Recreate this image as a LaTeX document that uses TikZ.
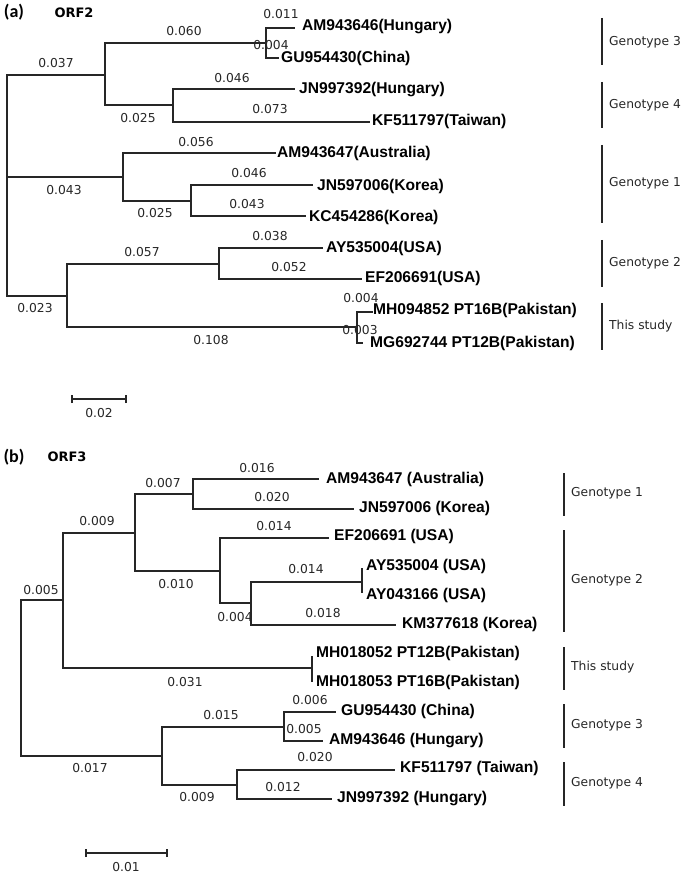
\documentclass[tikz,border=0pt]{standalone}
\usepackage{fontspec}
\setmainfont{DejaVu Sans}
\newfontfamily\leaffont{Liberation Sans}
\newfontfamily\panelfont{Carlito}
\begin{document}
\begin{tikzpicture}[x=1pt,y=-1pt,
  br/.style={line width=1.2pt, draw=black!85},
  leaf/.style={anchor=west, inner sep=0pt, font=\leaffont\bfseries\fontsize{15.6}{18}\selectfont},
  bl/.style={inner sep=0pt, font=\fontsize{12.3}{14}\selectfont, text=black!85},
  geno/.style={anchor=west, inner sep=0pt, font=\fontsize{12.3}{14}\selectfont, text=black!85},
  bar/.style={line width=1.2pt, draw=black!85},
  paneltitle/.style={inner sep=0pt, font=\panelfont\bfseries\fontsize{18}{20}\selectfont},
  orf/.style={inner sep=0pt, font=\bfseries\fontsize{13}{15}\selectfont},
]
\useasboundingbox (0,0) rectangle (685,874);

% ================= Panel (a) =================
\node[paneltitle] (pa) at (14,12) {(a)};
\node[orf] (orfa) at (74,13) {ORF2};

\coordinate (ra) at (7,185);
\coordinate (a1) at (105,75);
\coordinate (a2) at (266,43);
\coordinate (aL1) at (295,28);
\coordinate (aL2) at (279,58);
\coordinate (a3) at (173,105);
\coordinate (aL3) at (295,89);
\coordinate (aL4) at (370,122);
\coordinate (a4) at (123,177);
\coordinate (aL5) at (276,153);
\coordinate (a5) at (191,201);
\coordinate (aL6) at (313,185);
\coordinate (aL7) at (306,216);
\coordinate (a6) at (67,296);
\coordinate (a7) at (219,264);
\coordinate (aL8) at (323,248);
\coordinate (aL9) at (362,279);
\coordinate (a8) at (357,327);
\coordinate (aL10) at (373,312);
\coordinate (aL11) at (363,343);

\draw[br] (ra) |- (a1);
\draw[br] (ra) |- (a4);
\draw[br] (ra) |- (a6);
\draw[line width=2.4pt, draw=black!85] (7,125) -- (7,177);
\draw[br] (a1) |- (a2);
\draw[br] (a1) |- (a3);
\draw[br] (a2) |- (aL1);
\draw[br] (a2) |- (aL2);
\draw[br] (a3) |- (aL3);
\draw[br] (a3) |- (aL4);
\draw[br] (a4) |- (aL5);
\draw[br] (a4) |- (a5);
\draw[br] (a5) |- (aL6);
\draw[br] (a5) |- (aL7);
\draw[br] (a6) |- (a7);
\draw[br] (a6) |- (a8);
\draw[br] (a7) |- (aL8);
\draw[br] (a7) |- (aL9);
\draw[br] (a8) |- (aL10);
\draw[br] (a8) |- (aL11);

\node[leaf] (taL1) at (302,26.5) {AM943646(Hungary)};
\node[leaf] (taL2) at (281,58.5) {GU954430(China)};
\node[leaf] (taL3) at (299,89.5) {JN997392(Hungary)};
\node[leaf] (taL4) at (372,121.5) {KF511797(Taiwan)};
\node[leaf] (taL5) at (277,153.5) {AM943647(Australia)};
\node[leaf] (taL6) at (317,186.5) {JN597006(Korea)};
\node[leaf] (taL7) at (309,217.5) {KC454286(Korea)};
\node[leaf] (taL8) at (326,248.5) {AY535004(USA)};
\node[leaf] (taL9) at (365,278.5) {EF206691(USA)};
\node[leaf] (taL10) at (373,310.5) {MH094852 PT16B(Pakistan)};
\node[leaf] (taL11) at (370,343.5) {MG692744 PT12B(Pakistan)};

\node[bl] (ba1) at (281,14) {0.011};
\node[bl] (ba2) at (271,45) {0.004};
\node[bl] (ba3) at (184,31) {0.060};
\node[bl] (ba4) at (56,63) {0.037};
\node[bl] (ba5) at (232,78) {0.046};
\node[bl] (ba6) at (270,109) {0.073};
\node[bl] (ba7) at (138,118) {0.025};
\node[bl] (ba8) at (196,142) {0.056};
\node[bl] (ba9) at (64,190) {0.043};
\node[bl] (ba10) at (249,173) {0.046};
\node[bl] (ba11) at (247,204) {0.043};
\node[bl] (ba12) at (155,213) {0.025};
\node[bl] (ba13) at (270,236) {0.038};
\node[bl] (ba14) at (289,267) {0.052};
\node[bl] (ba15) at (142,252) {0.057};
\node[bl] (ba16) at (35,308) {0.023};
\node[bl] (ba17) at (211,340) {0.108};
\node[bl] (ba18) at (361,298) {0.004};
\node[bl] (ba19) at (360,330) {0.003};

\draw[bar] (602,18) -- (602,65);
\node[geno] (ga3) at (609,42) {Genotype 3};
\draw[bar] (602,82) -- (602,128);
\node[geno] (ga4) at (609,105) {Genotype 4};
\draw[bar] (602,145) -- (602,223);
\node[geno] (ga1) at (609,183) {Genotype 1};
\draw[bar] (602,240) -- (602,287);
\node[geno] (ga2) at (609,263) {Genotype 2};
\draw[bar] (602,303) -- (602,350);
\node[geno] (gas) at (609,326) {This study};

\coordinate (sa1) at (72,399);
\coordinate (sa2) at (126,399);
\draw[br] (sa1) -- (sa2);
\draw[br] ([yshift=-4pt]sa1) -- ([yshift=4pt]sa1);
\draw[br] ([yshift=-4pt]sa2) -- ([yshift=4pt]sa2);
\node[bl] (sla) at (99,413) {0.02};

% ================= Panel (b) =================
\node[paneltitle] (pb) at (14,457) {(b)};
\node[orf] (orfb) at (67,457) {ORF3};

\coordinate (rb) at (21,680);
\coordinate (b1) at (63,600);
\coordinate (b2) at (135,533);
\coordinate (b3) at (193,494);
\coordinate (bL1) at (319,479);
\coordinate (bL2) at (354,509);
\coordinate (b4) at (220,571);
\coordinate (bL3) at (329,538);
\coordinate (b5) at (251,603);
\coordinate (b6) at (362,582);
\coordinate (bL4) at (362,568);
\coordinate (bL5) at (362,593);
\coordinate (bL6) at (396,625);
\coordinate (b7) at (312,668);
\coordinate (bL7) at (312,656);
\coordinate (bL8) at (312,682);
\coordinate (b8) at (162,756);
\coordinate (b9) at (284,727);
\coordinate (bL9) at (336,712);
\coordinate (bL10) at (323,741);
\coordinate (b10) at (237,785);
\coordinate (bL11) at (395,770);
\coordinate (bL12) at (332,799);

\draw[br] (rb) |- (b1);
\draw[br] (rb) |- (b8);
\draw[br] (b1) |- (b2);
\draw[br] (b1) |- (b7);
\draw[br] (b2) |- (b3);
\draw[br] (b2) |- (b4);
\draw[br] (b3) |- (bL1);
\draw[br] (b3) |- (bL2);
\draw[br] (b4) |- (bL3);
\draw[br] (b4) |- (b5);
\draw[br] (b5) |- (b6);
\draw[br] (b5) |- (bL6);
\draw[br] (b6) -- (bL4);
\draw[br] (b6) -- (bL5);
\draw[br] (b7) -- (bL7);
\draw[br] (b7) -- (bL8);
\draw[br] (b8) |- (b9);
\draw[br] (b8) |- (b10);
\draw[br] (b9) |- (bL9);
\draw[br] (b9) |- (bL10);
\draw[br] (b10) |- (bL11);
\draw[br] (b10) |- (bL12);

\node[leaf] (tbL1) at (326,479.5) {AM943647 (Australia)};
\node[leaf] (tbL2) at (359,508.5) {JN597006 (Korea)};
\node[leaf] (tbL3) at (334,536.5) {EF206691 (USA)};
\node[leaf] (tbL4) at (366,566.5) {AY535004 (USA)};
\node[leaf] (tbL5) at (366,595.5) {AY043166 (USA)};
\node[leaf] (tbL6) at (402,624.5) {KM377618 (Korea)};
\node[leaf] (tbL7) at (316,653.5) {MH018052 PT12B(Pakistan)};
\node[leaf] (tbL8) at (316,682.5) {MH018053 PT16B(Pakistan)};
\node[leaf] (tbL9) at (341,711.5) {GU954430 (China)};
\node[leaf] (tbL10) at (329,740.5) {AM943646 (Hungary)};
\node[leaf] (tbL11) at (400,768.5) {KF511797 (Taiwan)};
\node[leaf] (tbL12) at (337,798.5) {JN997392 (Hungary)};

\node[bl] (bb1) at (41,590) {0.005};
\node[bl] (bb2) at (97,521) {0.009};
\node[bl] (bb3) at (163,483) {0.007};
\node[bl] (bb4) at (257,468) {0.016};
\node[bl] (bb5) at (272,497) {0.020};
\node[bl] (bb6) at (176,584) {0.010};
\node[bl] (bb7) at (274,526) {0.014};
\node[bl] (bb8) at (235,617) {0.004};
\node[bl] (bb9) at (306,569) {0.014};
\node[bl] (bb10) at (323,613) {0.018};
\node[bl] (bb11) at (185,682) {0.031};
\node[bl] (bb12) at (90,768) {0.017};
\node[bl] (bb13) at (221,715) {0.015};
\node[bl] (bb14) at (310,700) {0.006};
\node[bl] (bb15) at (304,729) {0.005};
\node[bl] (bb16) at (197,797) {0.009};
\node[bl] (bb17) at (315,757) {0.020};
\node[bl] (bb18) at (283,787) {0.012};

\draw[bar] (564,473) -- (564,516);
\node[geno] (gb1) at (571,493) {Genotype 1};
\draw[bar] (564,530) -- (564,632);
\node[geno] (gb2) at (571,580) {Genotype 2};
\draw[bar] (564,647) -- (564,690);
\node[geno] (gbs) at (571,667) {This study};
\draw[bar] (564,704) -- (564,748);
\node[geno] (gb3) at (571,725) {Genotype 3};
\draw[bar] (564,762) -- (564,806);
\node[geno] (gb4) at (571,783) {Genotype 4};

\coordinate (sb1) at (86,853);
\coordinate (sb2) at (167,853);
\draw[br] (sb1) -- (sb2);
\draw[br] ([yshift=-4pt]sb1) -- ([yshift=4pt]sb1);
\draw[br] ([yshift=-4pt]sb2) -- ([yshift=4pt]sb2);
\node[bl] (slb) at (126,867) {0.01};
\end{tikzpicture}
\end{document}
